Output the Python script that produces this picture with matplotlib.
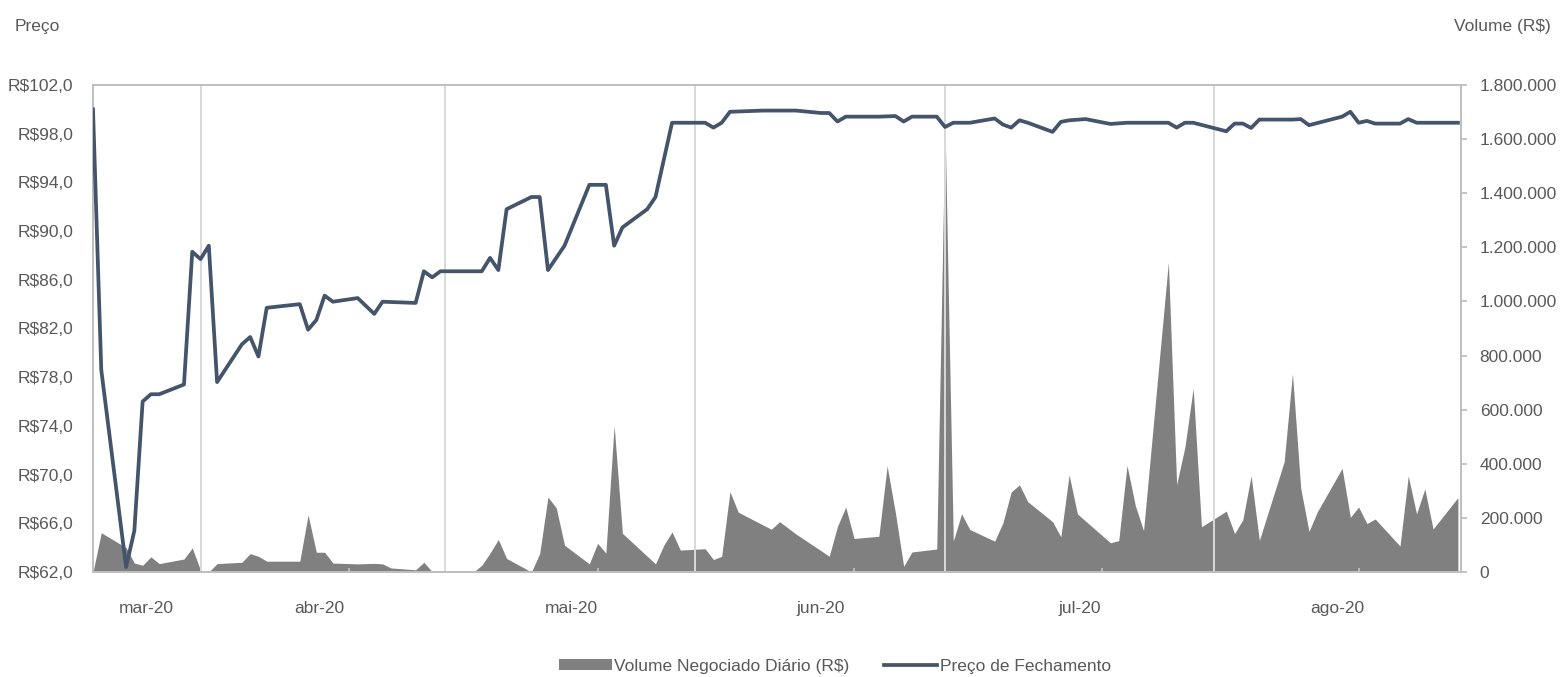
import matplotlib
matplotlib.use("Agg")
import matplotlib.pyplot as plt
from matplotlib import font_manager
from matplotlib.patches import Patch
from matplotlib.lines import Line2D
from matplotlib.ticker import FuncFormatter
import pandas as pd

# fechamento diario (R$)
preco_datas = ["03-05", "03-06", "03-09", "03-10", "03-11", "03-12", "03-13",
               "03-16", "03-17", "03-18", "03-19", "03-20", "03-23", "03-24",
               "03-25", "03-26", "03-30", "03-31", "04-01", "04-02", "04-03",
               "04-06", "04-08", "04-09", "04-13", "04-14", "04-15", "04-16",
               "04-21", "04-22", "04-23", "04-24", "04-27", "04-28", "04-29",
               "05-01", "05-04", "05-06", "05-07", "05-08", "05-11", "05-12",
               "05-14", "05-18", "05-19", "05-20", "05-21", "05-25", "05-29",
               "06-01", "06-02", "06-03", "06-04", "06-08", "06-10", "06-11",
               "06-12", "06-15", "06-16", "06-17", "06-19", "06-22", "06-23",
               "06-24", "06-25", "06-26", "06-29", "06-30", "07-01", "07-03",
               "07-06", "07-08", "07-13", "07-14", "07-15", "07-16", "07-20",
               "07-21", "07-22", "07-23", "07-24", "07-28", "07-29", "07-30",
               "08-03", "08-04", "08-05", "08-06", "08-07", "08-10", "08-11",
               "08-12", "08-17"]
preco_valores = [100.0, 78.6, 62.4, 65.4, 76.0, 76.6, 76.6,
                 77.4, 88.3, 87.7, 88.8, 77.6, 80.7, 81.3,
                 79.7, 83.7, 84.0, 81.9, 82.7, 84.7, 84.2,
                 84.5, 83.2, 84.2, 84.1, 86.7, 86.2, 86.7,
                 86.7, 87.8, 86.8, 91.8, 92.8, 92.8, 86.8,
                 88.8, 93.8, 93.8, 88.8, 90.3, 91.8, 92.8,
                 98.9, 98.9, 98.5, 98.9, 99.8, 99.9, 99.9,
                 99.7, 99.7, 99.0, 99.4, 99.4, 99.45, 99.0,
                 99.4, 99.4, 98.55, 98.9, 98.9, 99.25, 98.75,
                 98.5, 99.1, 98.9, 98.15, 98.97, 99.1, 99.2,
                 98.8, 98.9, 98.9, 98.5, 98.9, 98.9, 98.2,
                 98.83, 98.83, 98.47, 99.16, 99.16, 99.2, 98.7,
                 99.4, 99.8, 98.9, 99.05, 98.83, 98.83, 99.2,
                 98.9, 98.9]

# volume negociado por dia (R$)
volume_datas = ["03-05", "03-06", "03-09", "03-10", "03-11", "03-12", "03-13",
                "03-16", "03-17", "03-18", "03-19", "03-20", "03-23", "03-24",
                "03-25", "03-26", "03-30", "03-31", "04-01", "04-02", "04-03",
                "04-06", "04-08", "04-09", "04-10", "04-13", "04-14", "04-15",
                "04-16", "04-20", "04-21", "04-22", "04-23", "04-24", "04-27",
                "04-28", "04-29", "04-30", "05-01", "05-04", "05-05", "05-06",
                "05-07", "05-08", "05-12", "05-13", "05-14", "05-15", "05-18",
                "05-19", "05-20", "05-21", "05-22", "05-26", "05-27", "05-29",
                "06-01", "06-02", "06-03", "06-04", "06-05", "06-08", "06-09",
                "06-10", "06-11", "06-12", "06-15", "06-16", "06-17", "06-18",
                "06-19", "06-22", "06-23", "06-24", "06-25", "06-26", "06-29",
                "06-30", "07-01", "07-02", "07-03", "07-06", "07-07", "07-08",
                "07-09", "07-10", "07-13", "07-14", "07-15", "07-16", "07-17",
                "07-20", "07-21", "07-22", "07-23", "07-24", "07-27", "07-28",
                "07-29", "07-30", "07-31", "08-03", "08-04", "08-05", "08-06",
                "08-07", "08-10", "08-11", "08-12", "08-13", "08-14", "08-17"]
volume_valores = [0, 145000, 90000, 33000, 25000, 56000, 31000,
                  48000, 89000, 6000, 0, 31000, 36000, 68000,
                  58000, 40000, 40000, 211000, 73000, 73000, 33000,
                  30000, 32000, 30000, 15000, 8000, 36000, 1000,
                  0, 0, 25000, 70000, 120000, 50000, 0,
                  68000, 277000, 237000, 99000, 30000, 106000, 70000,
                  541000, 143000, 30000, 99000, 148000, 81000, 86000,
                  46000, 58000, 297000, 221000, 158000, 186000, 140000,
                  79000, 58000, 169000, 240000, 124000, 132000, 392000,
                  219000, 21000, 74000, 85000, 1650000, 114000, 215000,
                  157000, 114000, 182000, 296000, 322000, 260000, 186000,
                  130000, 359000, 215000, 188000, 108000, 116000, 394000,
                  246000, 153000, 1145000, 323000, 462000, 679000, 167000,
                  225000, 142000, 193000, 355000, 117000, 408000, 734000,
                  309000, 150000, 222000, 383000, 202000, 240000, 179000,
                  196000, 96000, 355000, 215000, 307000, 159000, 275000]

meses = ["mar-20", "abr-20", "mai-20", "jun-20", "jul-20", "ago-20"]
meses_pos = ["2020-03-11 12:00", "2020-04-01 10:00", "2020-05-01 20:00",
             "2020-05-31 22:00", "2020-07-02 06:00", "2020-08-02 10:00"]
marcas_x = ["2020-04-05 00:00", "2020-05-05 00:00", "2020-06-05 00:00",
            "2020-07-05 00:00", "2020-08-05 00:00"]
grade_x = ["2020-03-18 00:00", "2020-04-16 12:00", "2020-05-16 18:00",
           "2020-06-16 01:00", "2020-07-18 12:00"]

preco_x = pd.to_datetime(["2020-" + d for d in preco_datas])
volume_x = pd.to_datetime(["2020-" + d for d in volume_datas])

plt.rcParams["font.family"] = ["Liberation Sans", "DejaVu Sans"]
tam = 12.5

cor_texto = "#595959"
cor_borda = "#bfbfbf"
cor_linha = "#44546a"
cor_area = "#808080"

fig = plt.figure(figsize=(15.62, 6.77), dpi=100)
ax = fig.add_axes([93 / 1562, 1 - 572 / 677, 1368 / 1562, 487 / 677])
ax2 = ax.twinx()

# area de volume no eixo da direita, linha de preco por cima
ax2.fill_between(volume_x, volume_valores, 0, color=cor_area, lw=0, zorder=1)
for g in pd.to_datetime(grade_x):
    ax2.axvline(g, color="#d9d9d9", lw=1.4, zorder=2)
ax.plot(preco_x, preco_valores, color=cor_linha, lw=2.7, zorder=3)

ax.set_zorder(ax2.get_zorder() + 1)
ax.patch.set_visible(False)

ax.set_xlim(pd.Timestamp("2020-03-05"), pd.Timestamp("2020-08-17 09:00"))
ax.set_ylim(62, 102)
ax2.set_ylim(0, 1800000)

ax.set_yticks(range(62, 103, 4))
ax.yaxis.set_major_formatter(FuncFormatter(lambda v, p: ("R$%.1f" % v).replace(".", ",")))
ax2.set_yticks(range(0, 1800001, 200000))
ax2.yaxis.set_major_formatter(FuncFormatter(lambda v, p: "{:,.0f}".format(v).replace(",", ".")))

ax.set_xticks(pd.to_datetime(marcas_x), [""] * len(marcas_x))
ax.set_xticks(pd.to_datetime(meses_pos), meses, minor=True)

ax.tick_params(axis="y", length=0, pad=14, labelsize=tam, labelcolor=cor_texto)
ax2.tick_params(axis="y", length=4.5, width=1.3, color=cor_borda, pad=9,
                labelsize=tam, labelcolor=cor_texto)
ax.tick_params(axis="x", which="major", direction="in", length=3, width=1.3,
               color=cor_borda)
ax.tick_params(axis="x", which="minor", length=0, pad=21, labelsize=tam,
               labelcolor=cor_texto)

for a in (ax, ax2):
    for s in a.spines.values():
        s.set_color(cor_borda)
        s.set_linewidth(1.3)

fig.text(15 / 1562, 1 - 26 / 677, "Preço", ha="left", va="center",
         fontsize=tam, color=cor_texto)
fig.text(1551 / 1562, 1 - 26 / 677, "Volume (R$)", ha="right", va="center",
         fontsize=tam, color=cor_texto)

alcas = [Patch(facecolor=cor_area, edgecolor="none"),
         Line2D([], [], color=cor_linha, lw=2.7)]
fig.legend(alcas, ["Volume Negociado Diário (R$)", "Preço de Fechamento"],
           loc="center", bbox_to_anchor=(835 / 1562, 1 - 666 / 677), ncol=2,
           frameon=False, fontsize=tam, labelcolor=cor_texto,
           handlelength=3.05, handleheight=0.55, handletextpad=0.15,
           columnspacing=2.0)

fig.savefig("out.png", dpi=100)
